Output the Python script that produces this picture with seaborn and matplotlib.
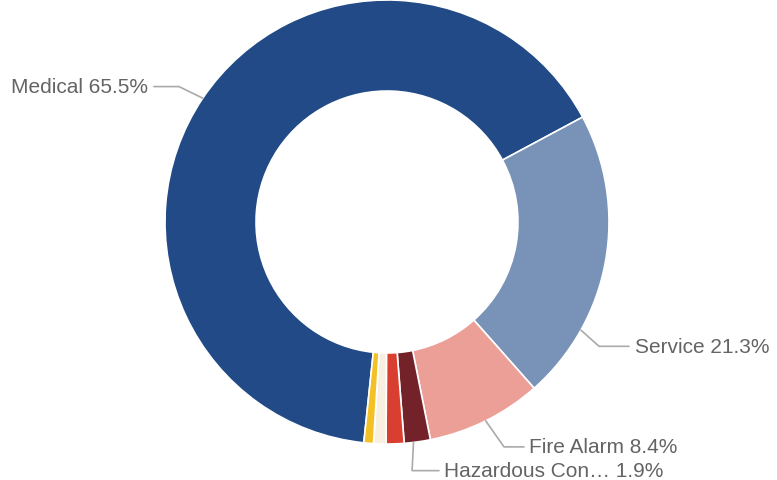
import numpy as np
import pandas as pd
import matplotlib
matplotlib.use("Agg")
import matplotlib.pyplot as plt
import seaborn as sns

# slice values, clockwise from the bottom-left
categories = ['Medical', 'Service', 'Fire Alarm', 'Hazardous Con\u2026', 'Other A', 'Other B', 'Other C']
shares = [65.5, 21.3, 8.4, 1.9, 1.3, 0.9, 0.7]
colors = ['#214a87', '#7893b7', '#eb9f97', '#74222a', '#d93f30', '#f8efe1', '#f3c125']
labelled = ['Medical', 'Service', 'Fire Alarm', 'Hazardous Con\u2026']

df = pd.DataFrame({'cat': categories, 'share': shares, 'color': colors})

sns.set_theme(style="white")
plt.rcParams['font.family'] = ['Liberation Sans', 'DejaVu Sans']

W, H = 777, 481
fig = plt.figure(figsize=(W / 100, H / 100), dpi=100)
cx, cy, R = 387, 223, 222
ax = fig.add_axes([(cx - R) / W, (H - cy - R) / H, 2 * R / W, 2 * R / H])

start = -96
wedges, _ = ax.pie(df['share'], colors=df['color'], startangle=start, counterclock=False,
                   radius=1.0, wedgeprops=dict(width=0.41, edgecolor='white', linewidth=1.2))
ax.set_xlim(-1, 1)
ax.set_ylim(-1, 1)
ax.set_aspect('equal')
ax.axis('off')

# leader-line layout: (anchor angle offset in deg, elbow xy, line end x, text x, ha)
layout = {
    'Medical': (0, (-0.937, 0.61), -1.05, -1.078, 'right'),
    'Service': (-19, (0.955, -0.56), 1.09, 1.115, 'left'),
    'Fire Alarm': (0, (0.527, -1.013), 0.617, 0.64, 'left'),
    'Hazardous Con\u2026': (-1, (0.113, -1.12), 0.234, 0.258, 'left'),
}

for w, (_, row) in zip(wedges, df.iterrows()):
    if row['cat'] not in labelled:
        continue
    off, elbow, lend, tx, ha = layout[row['cat']]
    ang = np.deg2rad((w.theta1 + w.theta2) / 2 + off)
    ax0, ay0 = np.cos(ang) * 1.0, np.sin(ang) * 1.0
    ax.plot([ax0, elbow[0], lend], [ay0, elbow[1], elbow[1]], color='#aaaaaa',
            linewidth=1.2, clip_on=False)
    ax.text(tx, elbow[1], f"{row['cat']} {row['share']:.1f}%", ha=ha, va='center',
            fontsize=15, color='#646464', clip_on=False)

fig.savefig('out.png', dpi=100)
